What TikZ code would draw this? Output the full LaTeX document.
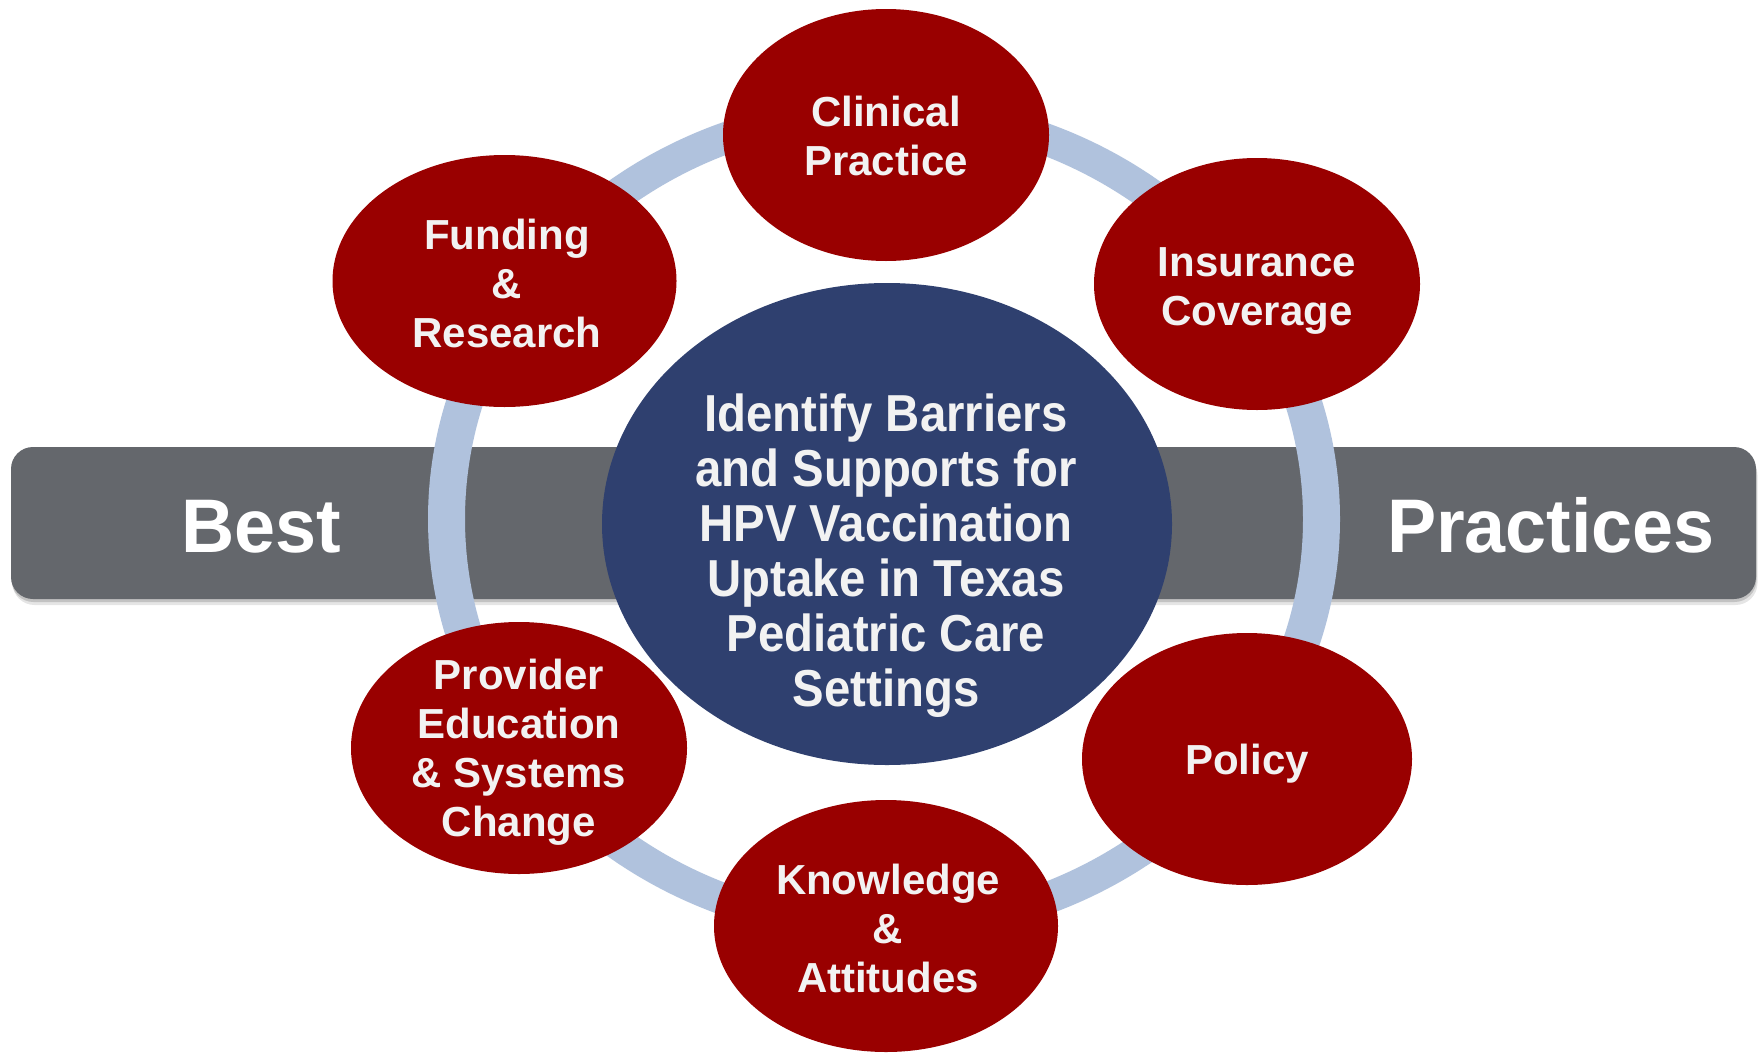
\documentclass[tikz,border=0pt]{standalone}
\usepackage{fontspec}
\setmainfont{Liberation Sans}
\newfontfamily\condf{Liberation Sans}[FakeStretch=0.91]
\newfontfamily\barf{Liberation Sans}[FakeStretch=0.97]
\usetikzlibrary{shapes.geometric}
\definecolor{hpvred}{HTML}{990000}
\definecolor{hpvnavy}{HTML}{2F406F}
\definecolor{hpvgray}{HTML}{64676C}
\definecolor{hpvring}{HTML}{B0C2DD}
\definecolor{hpvtxt}{HTML}{F2F2F2}
\begin{document}
\begin{tikzpicture}[x=1pt,y=-1pt,
  redov/.style={ellipse, fill=hpvred, draw=none, inner sep=0pt},
  lab/.style={text=hpvtxt, font=\bfseries\fontsize{42}{49}\selectfont, align=center, inner sep=0pt},
  centerlab/.style={text=hpvtxt, font=\condf\bfseries\fontsize{52}{55}\selectfont, align=center, inner sep=0pt},
  barlab/.style={text=white, font=\barf\bfseries\fontsize{76}{80}\selectfont, anchor=base, inner sep=0pt},
  barbox/.style={rectangle, rounded corners=22pt, fill=hpvgray, draw=none, minimum width=1745pt, minimum height=152pt, inner sep=0pt}
]
\useasboundingbox (0,0) rectangle (1758,1052);
\fill[white] (0,0) rectangle (1758,1052);

% shadow of the bar
\node[barbox, fill=black, opacity=0.10] (barsh1) at (885,529) {};
\node[barbox, fill=black, opacity=0.15] (barsh2) at (884,526) {};
% bar
\node[barbox] (bar) at (883.5,523) {};

% ring
\fill[hpvring, even odd rule] (884,519) ellipse [x radius=456pt, y radius=424pt]
                              (884,519) ellipse [x radius=419pt, y radius=393pt];

% bar labels
\node[barlab] (best) at (261,552) {Best};
\node[barlab] (prac) at (1551,552) {Practices};

% centre
\node[ellipse, fill=hpvnavy, draw=none, inner sep=0pt, minimum width=570pt, minimum height=482pt] (core) at (887,524) {};
\node[centerlab] (coreT) at (886,556) {Identify Barriers\\and Supports for\\HPV Vaccination\\Uptake in Texas\\Pediatric Care\\Settings};

% outer ellipses
\node[redov, minimum width=326pt, minimum height=252pt] (clin) at (886,135) {};
\node[redov, minimum width=344pt, minimum height=252pt] (fund) at (504.5,281) {};
\node[redov, minimum width=326pt, minimum height=252pt] (ins) at (1257,284) {};
\node[redov, minimum width=330pt, minimum height=252pt] (pol) at (1247,759) {};
\node[redov, minimum width=344pt, minimum height=252pt] (know) at (886,926) {};
\node[redov, minimum width=336pt, minimum height=252pt] (prov) at (519,748) {};

\node[lab] (clinT) at (886,136) {Clinical\\Practice};
\node[lab] (fundT) at (507,283) {Funding\\\&\\Research};
\node[lab] (insT) at (1257,290.5) {Insurance\\Coverage};
\node[lab] (polT) at (1247,763.5) {Policy};
\node[lab] (knowT) at (888,928) {Knowledge\\\&\\Attitudes};
\node[lab] (provT) at (519,752.5) {Provider\\Education\\\& Systems\\Change};
\end{tikzpicture}
\end{document}
